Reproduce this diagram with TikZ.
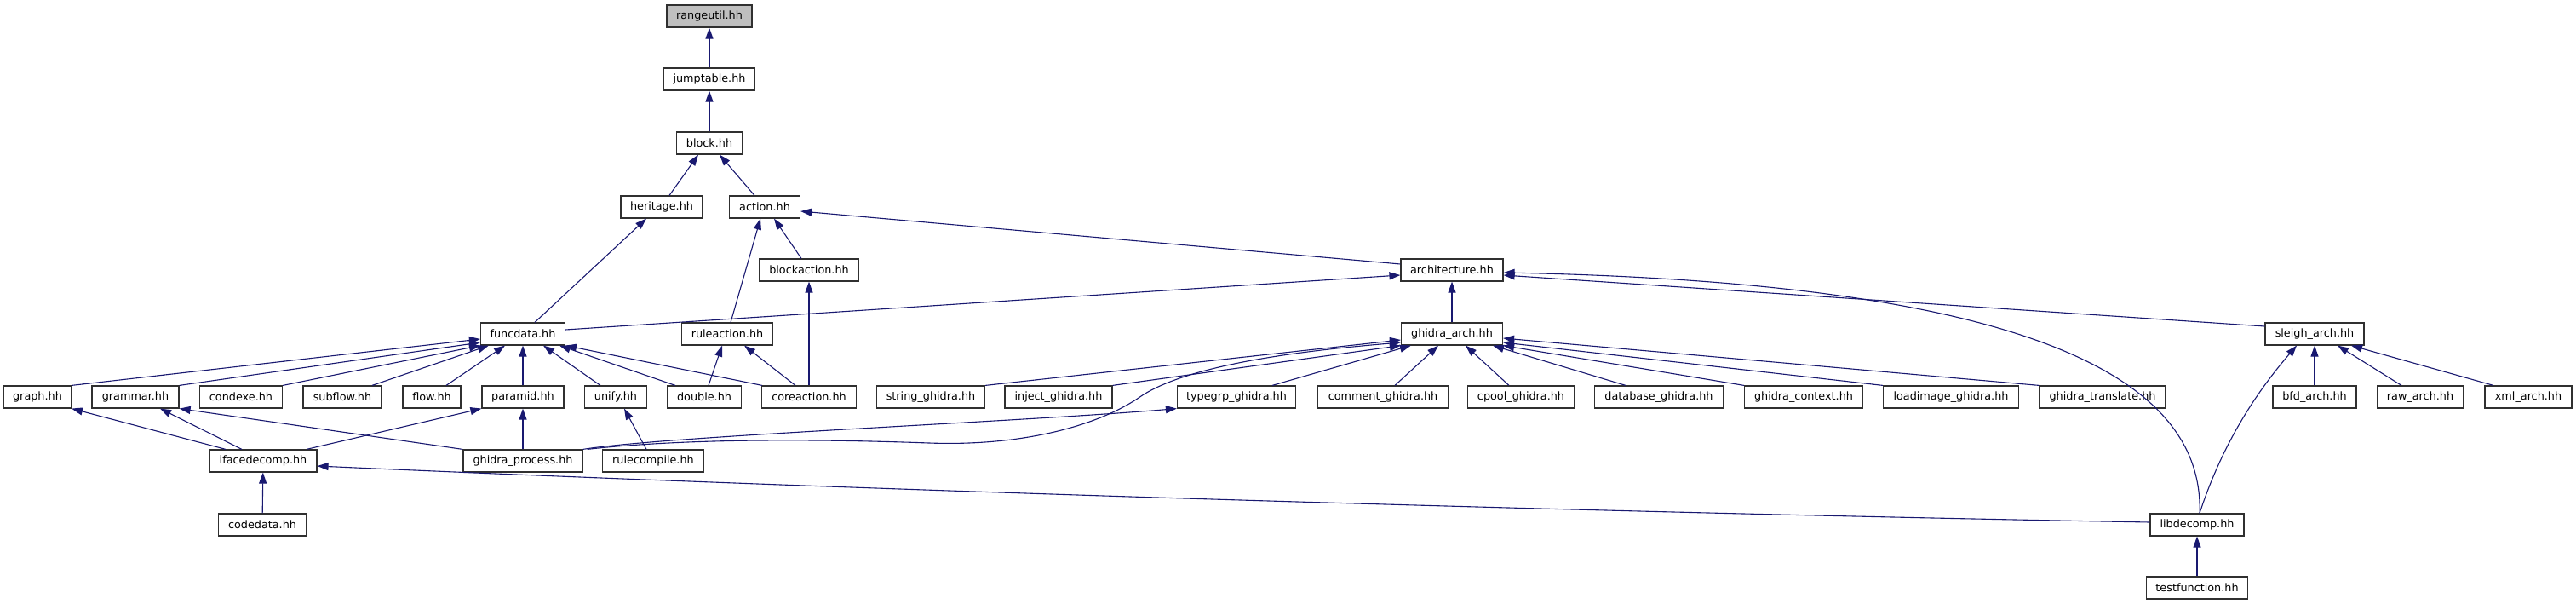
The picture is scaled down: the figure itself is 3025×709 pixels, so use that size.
\documentclass[tikz,border=0pt]{standalone}
\usepackage{fontspec}
\setmainfont{DejaVu Sans}
\usetikzlibrary{arrows.meta,calc}
\definecolor{edgeblue}{HTML}{191970}
\definecolor{boxline}{HTML}{303030}
\begin{document}
\begin{tikzpicture}[x=1pt,y=-1pt,
  hfile/.style={draw=boxline,line width=1.2pt,fill=white,rectangle,inner sep=0pt,
    minimum height=26pt,font=\fontsize{12.8}{14}\selectfont},
  rootfile/.style={hfile,fill=black!25},
  dep/.style={draw=edgeblue,line width=1.1pt,-{Triangle[length=13pt,width=9pt]}}]
\useasboundingbox (0,0) rectangle (3025,709);
% nodes
\node[rootfile,minimum width=100pt] (rangeutil) at (833,19) {rangeutil.hh};
\node[hfile,minimum width=107pt] (jumptable) at (833,93) {jumptable.hh};
\node[hfile,minimum width=77pt] (block) at (833,168) {block.hh};
\node[hfile,minimum width=96pt] (heritage) at (777,243) {heritage.hh};
\node[hfile,minimum width=83pt] (action) at (898,243) {action.hh};
\node[hfile,minimum width=117pt] (blockaction) at (950,317) {blockaction.hh};
\node[hfile,minimum width=120pt] (architecture) at (1705,317) {architecture.hh};
\node[hfile,minimum width=99pt] (funcdata) at (614,392) {funcdata.hh};
\node[hfile,minimum width=107pt] (ruleaction) at (854,392) {ruleaction.hh};
\node[hfile,minimum width=119pt] (ghidra_arch) at (1705,392) {ghidra\_arch.hh};
\node[hfile,minimum width=116pt] (sleigh_arch) at (2718,392) {sleigh\_arch.hh};
\node[hfile,minimum width=79pt] (graph) at (44,466) {graph.hh};
\node[hfile,minimum width=102pt] (grammar) at (159,466) {grammar.hh};
\node[hfile,minimum width=97pt] (condexe) at (283,466) {condexe.hh};
\node[hfile,minimum width=92pt] (subflow) at (402,466) {subflow.hh};
\node[hfile,minimum width=68pt] (flow) at (507,466) {flow.hh};
\node[hfile,minimum width=96pt] (paramid) at (614,466) {paramid.hh};
\node[hfile,minimum width=73pt] (unify) at (723,466) {unify.hh};
\node[hfile,minimum width=87pt] (double) at (827,466) {double.hh};
\node[hfile,minimum width=111pt] (coreaction) at (950,466) {coreaction.hh};
\node[hfile,minimum width=127pt] (string_ghidra) at (1093,466) {string\_ghidra.hh};
\node[hfile,minimum width=126pt] (inject_ghidra) at (1243,466) {inject\_ghidra.hh};
\node[hfile,minimum width=139pt] (typegrp_ghidra) at (1452,466) {typegrp\_ghidra.hh};
\node[hfile,minimum width=153pt] (comment_ghidra) at (1624,466) {comment\_ghidra.hh};
\node[hfile,minimum width=125pt] (cpool_ghidra) at (1786,466) {cpool\_ghidra.hh};
\node[hfile,minimum width=151pt] (database_ghidra) at (1948,466) {database\_ghidra.hh};
\node[hfile,minimum width=139pt] (ghidra_context) at (2118,466) {ghidra\_context.hh};
\node[hfile,minimum width=159pt] (loadimage_ghidra) at (2291,466) {loadimage\_ghidra.hh};
\node[hfile,minimum width=148pt] (ghidra_translate) at (2469,466) {ghidra\_translate.hh};
\node[hfile,minimum width=98pt] (bfd_arch) at (2718,466) {bfd\_arch.hh};
\node[hfile,minimum width=101pt] (raw_arch) at (2842,466) {raw\_arch.hh};
\node[hfile,minimum width=102pt] (xml_arch) at (2969,466) {xml\_arch.hh};
\node[hfile,minimum width=126pt] (ifacedecomp) at (309,541) {ifacedecomp.hh};
\node[hfile,minimum width=140pt] (ghidra_process) at (614,541) {ghidra\_process.hh};
\node[hfile,minimum width=119pt] (rulecompile) at (767,541) {rulecompile.hh};
\node[hfile,minimum width=103pt] (codedata) at (308,616) {codedata.hh};
\node[hfile,minimum width=110pt] (libdecomp) at (2580,616) {libdecomp.hh};
\node[hfile,minimum width=119pt] (testfunction) at (2580,690) {testfunction.hh};
% edges
\draw[dep] (jumptable) -- (rangeutil);
\draw[dep] (block) -- (jumptable);
\draw[dep] ($(heritage.north)+(9,0)$) -- ($(block.south)+(-13,0)$);
\draw[dep] ($(action.north)+(-12,0)$) -- ($(block.south)+(12,0)$);
\draw[dep] ($(funcdata.north)+(14,0)$) -- ($(heritage.south)+(-18,0)$);
\draw[dep] ($(ruleaction.north)+(4,0)$) -- ($(action.south)+(-5,0)$);
\draw[dep] ($(blockaction.north)+(-9,0)$) -- ($(action.south)+(11,0)$);
\draw[dep] ($(architecture.west)+(0,-7)$) -- ($(action.east)+(0,5)$);
\draw[dep] ($(funcdata.east)+(0,-5)$) -- ($(architecture.west)+(0,6)$);
\draw[dep] (coreaction) -- (blockaction);
\draw[dep] ($(coreaction.north)+(-16,0)$) -- ($(ruleaction.south)+(20,0)$);
\draw[dep] ($(double.north)+(5,0)$) -- ($(ruleaction.south)+(-6,0)$);
% into funcdata
\draw[dep] (graph.north east) -- ($(funcdata.west)+(0,6)$);
\draw[dep] (grammar.north east) -- ($(funcdata.west)+(0,10)$);
\draw[dep] (condexe.north east) -- (funcdata.south west);
\draw[dep] ($(subflow.north)+(35,0)$) -- ($(funcdata.south west)+(10,0)$);
\draw[dep] ($(flow.north)+(17,0)$) -- ($(funcdata.south)+(-21,0)$);
\draw[dep] (paramid) -- (funcdata);
\draw[dep] ($(unify.north)+(-18,0)$) -- ($(funcdata.south)+(24,0)$);
\draw[dep] ($(double.north)+(-34,0)$) -- ($(funcdata.south)+(43,0)$);
\draw[dep] ($(coreaction.north west)+(1,0)$) -- (funcdata.south east);
% lower left
\draw[dep] ($(ifacedecomp.north)+(-44,0)$) -- (graph.south east);
\draw[dep] ($(ifacedecomp.north)+(-25,0)$) -- ($(grammar.south)+(29,0)$);
\draw[dep] ($(ifacedecomp.north)+(51,0)$) -- (paramid.south west);
\draw[dep] (ghidra_process.north west) -- (grammar.south east);
\draw[dep] (ghidra_process) -- (paramid);
\draw[dep] ($(rulecompile.north)+(-8,0)$) -- ($(unify.south)+(10,0)$);
\draw[dep] (codedata) -- (ifacedecomp);
\draw[dep] ($(libdecomp.west)+(0,-3)$) .. controls (1800,600) and (1000,575) .. ($(ifacedecomp.east)+(0,6)$);
% architecture
\draw[dep] (ghidra_arch) -- (architecture);
\draw[dep] ($(sleigh_arch.west)+(0,-9)$) -- ($(architecture.east)+(0,6)$);
\draw[dep] ($(libdecomp.north)+(3,0)$) .. controls (2590,400) and (2250,330) .. ($(architecture.east)+(0,3)$);
% into ghidra_arch
\draw[dep] (string_ghidra.north east) -- ($(ghidra_arch.west)+(0,7)$);
\draw[dep] (inject_ghidra.north east) -- (ghidra_arch.south west);
\draw[dep] ($(typegrp_ghidra.north)+(42,0)$) -- ($(ghidra_arch.south west)+(12,0)$);
\draw[dep] ($(comment_ghidra.north)+(14,0)$) -- ($(ghidra_arch.south)+(-16,0)$);
\draw[dep] ($(cpool_ghidra.north)+(-14,0)$) -- ($(ghidra_arch.south)+(16,0)$);
\draw[dep] ($(database_ghidra.north)+(-39,0)$) -- ($(ghidra_arch.south)+(48,0)$);
\draw[dep] (ghidra_context.north west) -- (ghidra_arch.south east);
\draw[dep] (loadimage_ghidra.north west) -- ($(ghidra_arch.east)+(0,10)$);
\draw[dep] (ghidra_translate.north west) -- ($(ghidra_arch.east)+(0,5)$);
\draw[dep] (ghidra_process.north east) .. controls (780,512) and (1200,495) .. (typegrp_ghidra.south west);
\draw[dep] ($(ghidra_process.north east)+(5,0)$) .. controls (800,515) and (950,515) .. (1091,520)
   .. controls (1200,524) and (1290,500) .. (1340,465)
   .. controls (1400,425) and (1550,410) .. ($(ghidra_arch.west)+(0,10)$);
% sleigh
\draw[dep] (bfd_arch) -- (sleigh_arch);
\draw[dep] ($(raw_arch.north)+(-22,0)$) -- ($(sleigh_arch.south)+(27,0)$);
\draw[dep] ($(xml_arch.north)+(-41,0)$) -- ($(sleigh_arch.south)+(43,0)$);
\draw[dep] ($(libdecomp.north)+(3,0)$) .. controls (2610,520) and (2650,460) .. ($(sleigh_arch.south)+(-21,0)$);
\draw[dep] (testfunction) -- (libdecomp);
\end{tikzpicture}
\end{document}
